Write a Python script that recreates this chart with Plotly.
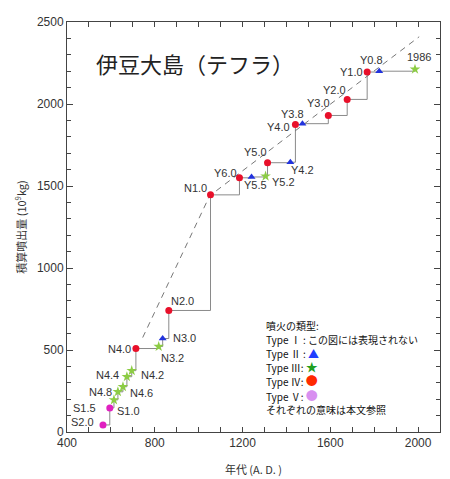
import plotly.graph_objects as go

# ---- data ----
tephra_names = ["S2.0", "S1.5", "S1.0", "N4.8", "N4.6", "N4.4", "N4.2", "N4.0", "N3.2", "N3.0",
                "N2.0", "N1.0", "Y6.0", "Y5.5", "Y5.2", "Y5.0", "Y4.2", "Y4.0", "Y3.8", "Y3.0",
                "Y2.0", "Y1.0", "Y0.8", "1986"]
tephra_years = [564, 595, 614, 632, 655, 673, 695, 714, 818, 836,
                864, 1054, 1186, 1241, 1305, 1314, 1418, 1441, 1473, 1591,
                1677, 1768, 1823, 1986]
cumulative_mass = [43, 147, 196, 245, 276, 337, 374, 509, 521, 570,
                   741, 1446, 1550, 1555, 1560, 1642, 1645, 1875, 1880, 1930,
                   2028, 2195, 2200, 2212]
eruption_type = ["V", "V", "III", "III", "III", "III", "III", "IV", "III", "II",
                 "IV", "IV", "IV", "II", "III", "IV", "II", "IV", "II", "IV",
                 "IV", "IV", "II", "III"]
trend_years = [745, 1050, 2005]
trend_values = [576, 1440, 2410]

x_tick_vals = [400, 800, 1200, 1600, 2000]
y_tick_vals = [0, 500, 1000, 1500, 2000, 2500]

# ---- styles ----
type_style = {
    "II": dict(symbol="triangle-up", color="#2233dd", size=7),
    "III": dict(symbol="star", color="#8ccc44", size=8),
    "IV": dict(symbol="circle", color="#e8102a", size=7),
    "V": dict(symbol="circle", color="#e020c0", size=7),
}
label_offsets = {
    "S2.0": (-20, 3), "S1.5": (-25, 0), "S1.0": (15, -11), "N4.8": (-17, 0),
    "N4.6": (19, -6), "N4.4": (-19, 2), "N4.2": (21, -4), "N4.0": (-16, 0),
    "N3.2": (14, -11), "N3.0": (22, 1), "N2.0": (14, 9), "N1.0": (-15, 7),
    "Y6.0": (-14, 5), "Y5.5": (4, -8), "Y5.2": (18, -6), "Y5.0": (-12, 11),
    "Y4.2": (12, -8), "Y4.0": (-17, -2), "Y3.8": (-10, 10), "Y3.0": (-10, 12),
    "Y2.0": (-13, 9), "Y1.0": (-16, 0), "Y0.8": (-8, 11), "1986": (4, 12),
}

fig = go.Figure()

# staircase
fig.add_trace(go.Scatter(x=tephra_years, y=cumulative_mass, mode="lines",
                         line=dict(color="#8a8a8a", width=1, shape="hv"),
                         hoverinfo="skip", showlegend=False))
# trend dashed
fig.add_trace(go.Scatter(x=trend_years, y=trend_values, mode="lines",
                         line=dict(color="#777777", width=1, dash="6px,5px"),
                         hoverinfo="skip", showlegend=False))
# markers by type
for t, st in type_style.items():
    xs = [x for x, e in zip(tephra_years, eruption_type) if e == t]
    ys = [y for y, e in zip(cumulative_mass, eruption_type) if e == t]
    fig.add_trace(go.Scatter(x=xs, y=ys, mode="markers",
                             marker=dict(symbol=st["symbol"], color=st["color"], size=st["size"],
                                         line=dict(width=0)),
                             showlegend=False))

lab_font = dict(family="Liberation Sans, Arial, sans-serif", size=11, color="#333333")
for n, x, y in zip(tephra_names, tephra_years, cumulative_mass):
    dx, dy = label_offsets[n]
    fig.add_annotation(x=x, y=y, text=n, showarrow=False, xanchor="center", yanchor="middle",
                       xshift=dx, yshift=dy, font=lab_font)

# title
fig.add_annotation(xref="paper", yref="paper", x=0.072, y=0.9, xanchor="left", yanchor="middle",
                   text="伊豆大島（テフラ）", showarrow=False,
                   font=dict(family="Noto Sans CJK JP", size=22, color="#222222"))

# legend block
leg_font = dict(family="Noto Sans CJK JP", size=10, color="#111111")
legend_lines = [
    ("噴火の類型:", 325),
    ("Type Ⅰ : この図には表現されない", 339),
    ("Type Ⅱ : <span style='color:#1f3fff;font-size:11px'>▲</span>", 353),
    ("Type Ⅲ: <span style='color:#20a020;font-size:12px'>★</span>", 366),
    ("Type Ⅳ: <span style='color:#ff2a00;font-size:12px'>●</span>", 380),
    ("Type Ⅴ: <span style='color:#d890f0;font-size:12px'>●</span>", 395),
    ("それぞれの意味は本文参照", 409),
]
plot_top, plot_h = 22, 410
for txt, py in legend_lines:
    fig.add_annotation(xref="paper", yref="paper", x=(264 - 67) / 373, y=1 - (py - plot_top) / plot_h,
                       xanchor="left", yanchor="middle", text=txt, showarrow=False, font=leg_font)

axis_common = dict(showline=True, linecolor="#444444", linewidth=1, mirror="ticks",
                   ticks="inside", tickcolor="#444444", showgrid=False, zeroline=False,
                   automargin=False,
                   tickfont=dict(family="Liberation Sans, Arial, sans-serif", size=12, color="#333333"))
fig.update_xaxes(range=[400, 2100], tickvals=x_tick_vals, ticklen=5,
                 minor=dict(dtick=100, tick0=400, ticks="inside", ticklen=5, tickcolor="#444444"),
                 title=dict(text="年代 (A. D. )", font=dict(family="Noto Sans CJK JP", size=11, color="#333333"),
                            standoff=16),
                 **axis_common)
fig.update_yaxes(range=[0, 2500], tickvals=y_tick_vals, ticklen=6,
                 minor=dict(dtick=100, tick0=0, ticks="inside", ticklen=4, tickcolor="#444444"),
                 title=dict(text="積算噴出量 (10<sup>9</sup>kg)",
                            font=dict(family="Noto Sans CJK JP", size=11, color="#333333"), standoff=8),
                 **axis_common)

fig.update_layout(width=442, height=471, margin=dict(l=59, r=10, t=14, b=47),
                  paper_bgcolor="white", plot_bgcolor="white", showlegend=False)

fig.write_html("out.html")
